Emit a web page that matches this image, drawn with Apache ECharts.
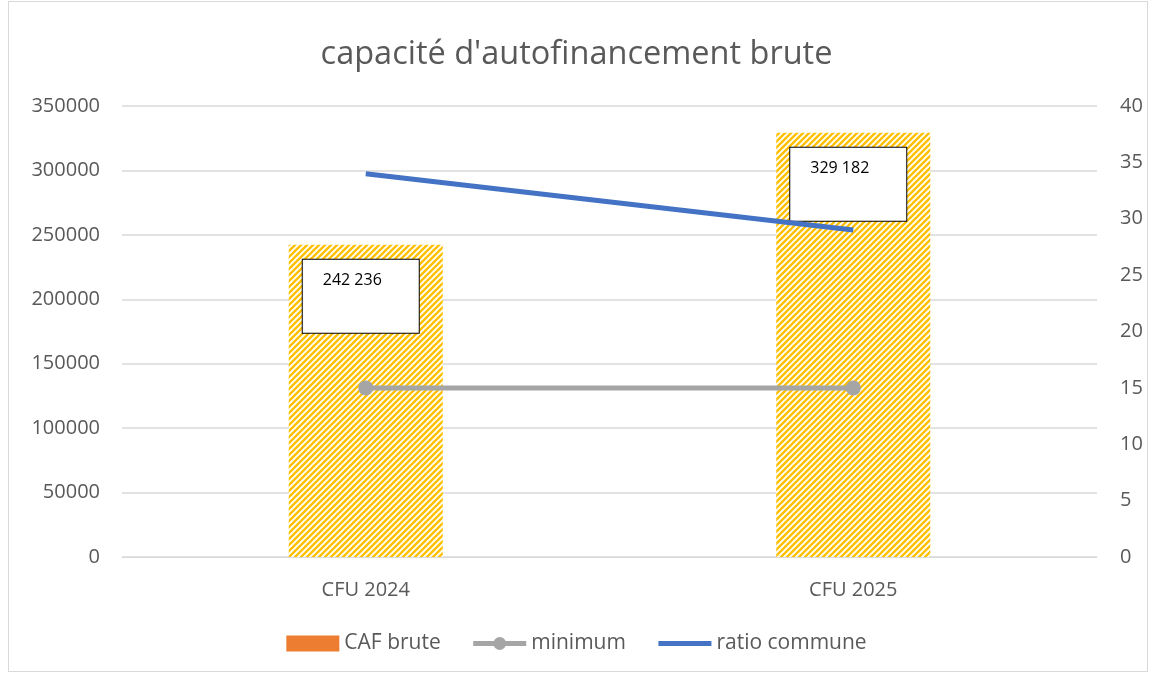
<!DOCTYPE html>
<html>
<head>
<meta charset="utf-8">
<script src="https://cdn.jsdelivr.net/npm/echarts@6/dist/echarts.min.js"></script>
<style>
    html, body { margin: 0; padding: 0; background: #fff; }
    #frame { position: absolute; left: 8px; top: 1px; width: 1140px; height: 671px; border: 1px solid #d9d9d9; box-sizing: border-box; }
    #chart1 { position: absolute; left: 0; top: 0; width: 1153px; height: 675px; }
</style>
</head>
<body>
<div id="frame"></div>
<div id="chart1"></div>
<script>
    var categories = ['CFU 2024', 'CFU 2025'];
    var cafBrute = [242236, 329182];
    var minimum = [15, 15];
    var ratioCommune = [34, 29];
    var textColor = '#595959';

    //motif rayé jaune des barres
    var pat = document.createElement('canvas');
    pat.width = 6;
    pat.height = 6;
    var ctx = pat.getContext('2d');
    ctx.fillStyle = '#fff';
    ctx.fillRect(0, 0, 6, 6);
    ctx.strokeStyle = '#FFC000';
    ctx.lineWidth = 2.4;
    ctx.beginPath();
    ctx.moveTo(-1, 7); ctx.lineTo(7, -1);
    ctx.moveTo(-4, 4); ctx.lineTo(4, -4);
    ctx.moveTo(2, 10); ctx.lineTo(10, 2);
    ctx.stroke();

    function fmt(v) {
        return String(v).replace(/\B(?=(\d{3})+(?!\d))/g, ' ');
    }

    var option = {
        animation: false,
        title: {
            text: "capacité d'autofinancement brute",
            left: 'center',
            top: 33,
            textStyle: { color: textColor, fontSize: 32.5, fontWeight: 'normal', fontFamily: 'Open Sans' }
        },
        legend: {
            bottom: 16,
            left: 'center',
            itemWidth: 53,
            itemHeight: 16,
            itemGap: 30,
            textStyle: { color: textColor, fontSize: 21, fontFamily: 'Open Sans' },
            data: [
                { name: 'CAF brute', icon: 'rect', itemStyle: { color: '#ED7D31' } },
                { name: 'minimum', lineStyle: { width: 5 } },
                { name: 'ratio commune', itemStyle: { opacity: 0 }, lineStyle: { width: 5, opacity: 1 } }
            ]
        },
        grid: { left: 122, right: 56, top: 106, bottom: 118 },
        xAxis: {
            type: 'category',
            data: categories,
            axisLine: { show: true, lineStyle: { color: '#d9d9d9' } },
            axisTick: { show: false },
            axisLabel: { color: textColor, fontSize: 20, margin: 23, fontFamily: 'Open Sans' }
        },
        yAxis: [{
            type: 'value',
            min: 0, max: 350000, interval: 50000,
            axisLine: { show: false },
            axisTick: { show: false },
            axisLabel: { color: textColor, fontSize: 20, margin: 22, fontFamily: 'Open Sans', formatter: function(v) { return String(v); } },
            splitLine: { lineStyle: { color: '#d9d9d9', width: 1.5 } }
        }, {
            type: 'value',
            min: 0, max: 40, interval: 5,
            axisLine: { show: false },
            axisTick: { show: false },
            axisLabel: { color: textColor, fontSize: 20, margin: 23, fontFamily: 'Open Sans' },
            splitLine: { show: false }
        }],
        series: [{
            name: 'CAF brute',
            type: 'bar',
            yAxisIndex: 0,
            barWidth: 154,
            itemStyle: { color: { image: pat, repeat: 'repeat' } },
            label: {
                show: true,
                position: 'insideTop',
                distance: 15,
                offset: [-63, 0],
                formatter: function(p) { return fmt(p.value); },
                color: '#000',
                fontSize: 16,
                fontFamily: 'Open Sans',
                backgroundColor: '#fff',
                borderColor: '#000',
                borderWidth: 1,
                padding: [13, 20, 44, 20],
                width: 76,
                align: 'left',
                verticalAlign: 'top'
            },
            data: cafBrute
        }, {
            name: 'minimum',
            type: 'line',
            yAxisIndex: 1,
            symbol: 'circle',
            symbolSize: 15,
            itemStyle: { color: '#A5A5A5' },
            lineStyle: { color: '#A5A5A5', width: 5 },
            data: minimum
        }, {
            name: 'ratio commune',
            type: 'line',
            yAxisIndex: 1,
            symbol: 'none',
            itemStyle: { color: '#4472C4' },
            lineStyle: { color: '#4472C4', width: 5 },
            data: ratioCommune
        }]
    };
    var chart1 = echarts.init(document.getElementById('chart1'));
    chart1.setOption(option);
    window.onresize = function() {
        chart1.resize();
    };
</script>
</body>
</html>
